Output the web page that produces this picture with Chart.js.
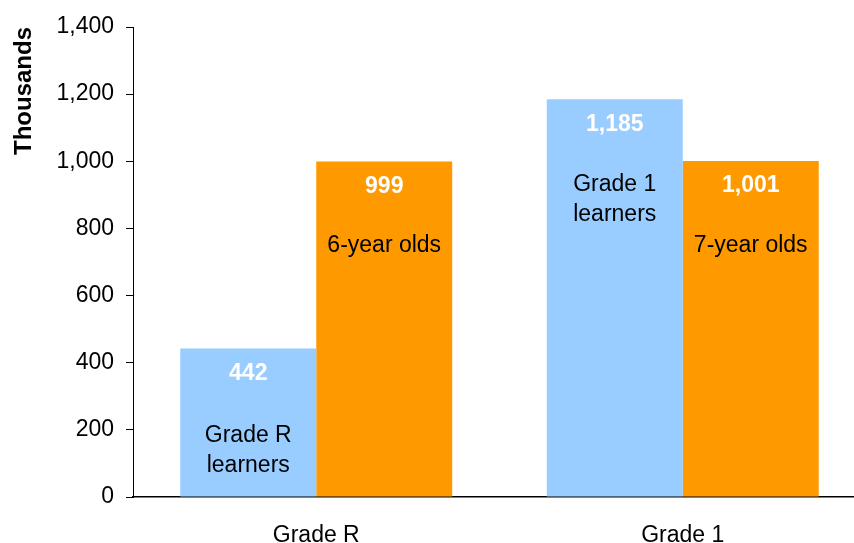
<!DOCTYPE html>
<html>
<head>
<meta charset="utf-8">
<script src="https://cdn.jsdelivr.net/npm/chart.js@4"></script>
<style>
  html, body { margin: 0; padding: 0; background: #fff; overflow: hidden; }
  #wrap { position: absolute; left: 0; top: 0; width: 880px; height: 560px; }
</style>
</head>
<body>
<div id="wrap"><canvas id="myChart"></canvas></div>
<script>
// Grade R / Grade 1 learners vs population of 6 and 7 year olds (thousands)

const categories = ["Grade R", "Grade 1"];
const learners = [442, 1185];
const ageGroup = [999, 1001];
const learnerLabels = [["Grade R", "learners"], ["Grade 1", "learners"]];
const ageLabels = [["6-year olds"], ["7-year olds"]];
const yTicks = [0, 200, 400, 600, 800, 1000, 1200, 1400];

const FONT = "'Liberation Sans', Arial, sans-serif";

// where the in-bar captions sit, in axis units
const captionAt = [
  [137, 886],
  [748, 750],
];
const captions = [learnerLabels, ageLabels];

const barText = {
  id: "barText",
  afterDatasetsDraw(chart) {
    const ctx = chart.ctx;
    const yScale = chart.scales.y;
    ctx.save();
    ctx.textAlign = "center";
    ctx.textBaseline = "middle";
    chart.data.datasets.forEach((ds, di) => {
      const meta = chart.getDatasetMeta(di);
      meta.data.forEach((bar, i) => {
        // value, white bold near the top of the bar
        ctx.fillStyle = "#ffffff";
        ctx.font = "bold 23px " + FONT;
        ctx.fillText(ds.data[i].toLocaleString("en-US"), bar.x, bar.y + 25);
        // caption
        ctx.fillStyle = "#000000";
        ctx.font = "23px " + FONT;
        const lines = captions[di][i];
        const cy = yScale.getPixelForValue(captionAt[di][i]);
        lines.forEach((t, k) => {
          ctx.fillText(t, bar.x, cy + (k - (lines.length - 1) / 2) * 30);
        });
      });
    });
    ctx.restore();
  },
};

const ctx = document.getElementById("myChart");

new Chart(ctx, {
  type: "bar",
  data: {
    labels: categories,
    datasets: [
      {
        label: "Learners",
        data: learners,
        backgroundColor: "#99CCFF",
        barPercentage: 1,
        categoryPercentage: 0.742,
      },
      {
        label: "Age group",
        data: ageGroup,
        backgroundColor: "#FF9900",
        barPercentage: 1,
        categoryPercentage: 0.742,
      },
    ],
  },
  options: {
    responsive: true,
    maintainAspectRatio: false,
    animation: false,
    layout: { padding: { top: 27, left: 6, right: 14, bottom: 0 } },
    plugins: {
      legend: { display: false },
      tooltip: { enabled: false },
    },
    scales: {
      x: {
        grid: { display: true, drawOnChartArea: false, drawTicks: false },
        border: { display: true, color: "#000", width: 1.5 },
        ticks: { color: "#000", font: { family: FONT, size: 23 }, padding: 25 },
        afterFit: (s) => { s.height = 63; },
      },
      y: {
        min: 0,
        max: 1400,
        afterBuildTicks: (s) => { s.ticks = yTicks.map((v) => ({ value: v })); },
        grid: { drawOnChartArea: false, drawTicks: true, tickLength: 7, color: "#000" },
        border: { display: true, color: "#000", width: 1 },
        ticks: { color: "#000", font: { family: FONT, size: 23 }, padding: 12 },
        title: {
          display: true,
          text: "Thousands",
          align: "end",
          color: "#000",
          font: { family: FONT, size: 24, weight: "bold" },
          padding: { top: 4, bottom: 4 },
        },
        afterFit: (s) => { s.width = 127; },
      },
    },
  },
  plugins: [barText],
});
</script>
</body>
</html>
